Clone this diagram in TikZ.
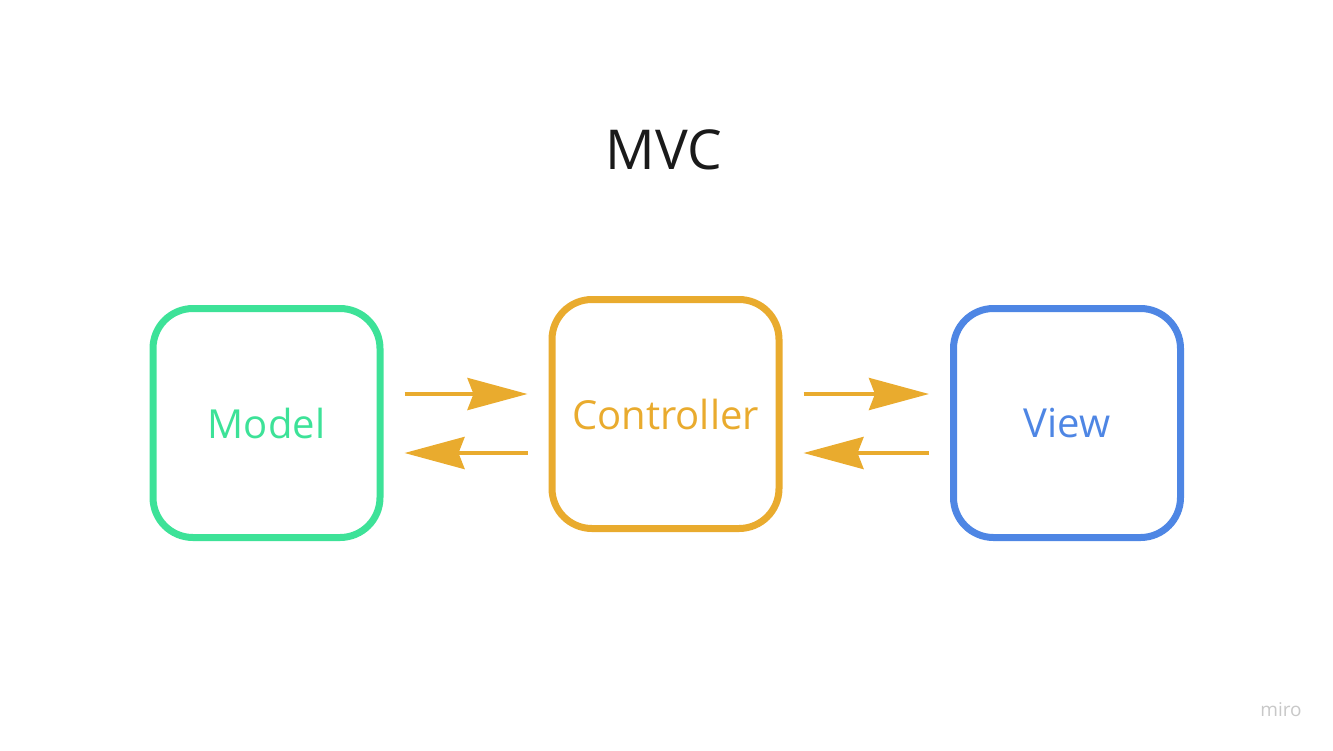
\documentclass[tikz,border=0pt]{standalone}
\usepackage{fontspec}
\setmainfont{Open Sans}
\usepackage{tikz}
\usetikzlibrary{arrows.meta, positioning, calc}
\usepackage{xcolor}
\definecolor{modelgreen}{RGB}{61, 226, 152}
\definecolor{ctrlorange}{RGB}{233, 171, 46}
\definecolor{viewblue}{RGB}{78, 134, 228}
\definecolor{titleblack}{RGB}{26, 26, 26}
\definecolor{logogray}{RGB}{200, 200, 200}

\begin{document}
\begin{tikzpicture}[x=1pt, y=-1pt,
    part/.style={draw, line width=7pt, rounded corners=40pt,
      minimum width=227pt, minimum height=229pt, inner sep=0pt,
      font=\fontsize{40}{48}\selectfont},
    flow/.style={line width=4pt, ctrlorange,
      -{Stealth[length=60pt, width=32pt, inset=6pt]},
      shorten <=21pt, shorten >=21pt}]
  \useasboundingbox (0,0) rectangle (1333,750);

  % Title
  \node[titleblack, font=\fontsize{55}{66}\selectfont] (title) at (664,150) {MVC};

  % Parts
  \node[part, modelgreen] (model) at (266.5,423) {Model};
  \node[part, ctrlorange] (ctrl) at (665.5,414) {Controller};
  \node[part, viewblue] (view) at (1067,423) {View};

  % Arrow levels
  \coordinate (upper) at (0,394);
  \coordinate (lower) at (0,453);

  % Model <-> Controller
  \draw[flow] (model.east |- upper) -- (ctrl.west |- upper);
  \draw[flow] (ctrl.west |- lower) -- (model.east |- lower);

  % Controller <-> View
  \draw[flow] (ctrl.east |- upper) -- (view.west |- upper);
  \draw[flow] (view.west |- lower) -- (ctrl.east |- lower);

  % Watermark
  \node[logogray, font=\fontsize{19}{23}\selectfont] (logo) at (1281,710) {miro};
\end{tikzpicture}
\end{document}
